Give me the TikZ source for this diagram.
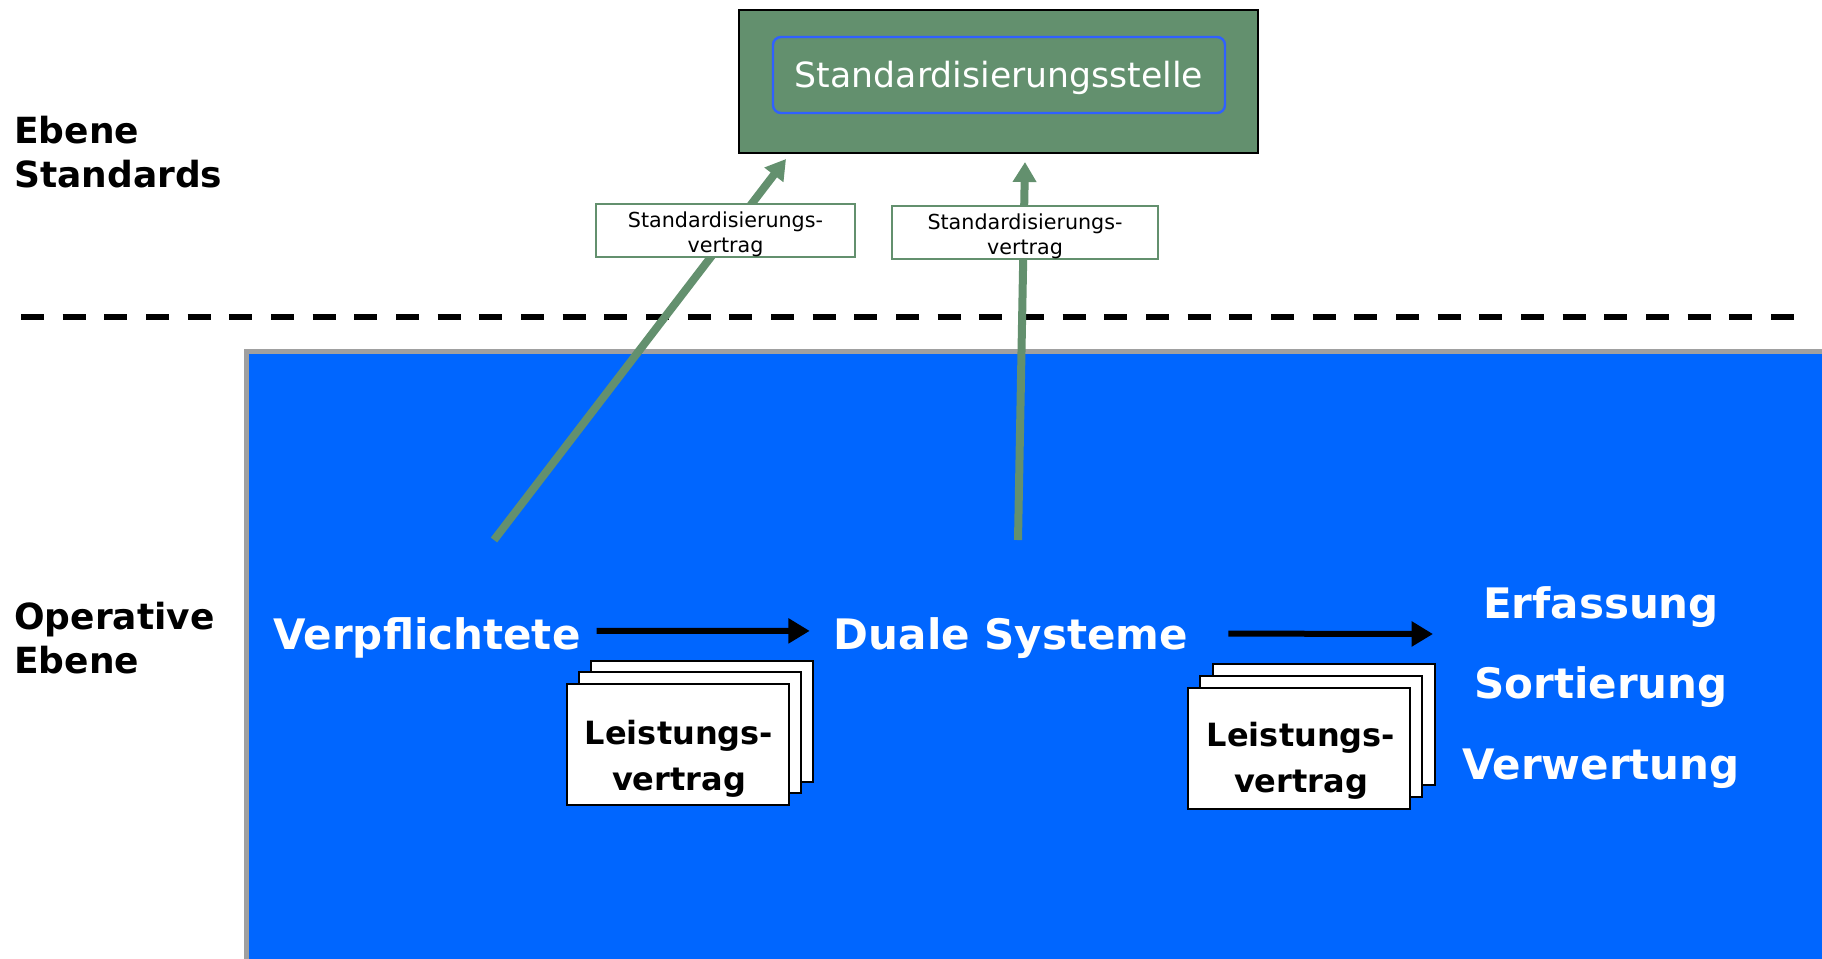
\documentclass[tikz,border=0pt]{standalone}
\usepackage{fontspec}
\setmainfont{DejaVu Sans}
\usetikzlibrary{arrows.meta}
\definecolor{sgreen}{RGB}{99,144,110}
\definecolor{opblue}{RGB}{0,102,255}
\definecolor{rblue}{RGB}{48,96,255}
\definecolor{bgray}{RGB}{160,160,160}
\begin{document}
\begin{tikzpicture}[x=0.75pt,y=-0.75pt,
  big/.style={font=\fontsize{31.5}{38}\selectfont\bfseries, text=white, inner sep=0pt, anchor=base},
  lvl/.style={font=\fontsize{27}{33}\selectfont\bfseries, text=black, inner sep=0pt, anchor=base west},
  doc/.style={draw=black, line width=1.5pt, fill=white, inner sep=0pt, minimum width=166.5pt, minimum height=90.75pt},
  doctext/.style={font=\fontsize{24}{34.5}\selectfont\bfseries, align=center, inner sep=0pt},
  lblbox/.style={draw=sgreen, line width=1.5pt, fill=white, inner sep=0pt, minimum height=40pt},
  lbltext/.style={font=\fontsize{15.5}{18.75}\selectfont, align=center, inner sep=0pt},
  garrow/.style={draw=sgreen, line width=6pt, -{Triangle[length=15pt,width=17pt]}},
  barrow/.style={draw=black, line width=4.5pt, -{Triangle[length=16pt,width=18pt]}},
]
\useasboundingbox (0,0) rectangle (1822,958);
\clip (0,0) rectangle (1822,958);
\fill[white] (0,0) rectangle (1822,958);

% operative area
\draw[bgray, line width=3.75pt, fill=opblue] (246.5,351.5) rectangle (1850,990);

% dashed separator
\draw[line width=4.5pt, dash pattern=on 17.25pt off 14pt] (21,317) -- (1795,317);

% level labels
\node[lvl] (l1a) at (14,143) {Ebene};
\node[lvl] (l1b) at (14,187) {Standards};
\node[lvl] (l2a) at (14,629) {Operative};
\node[lvl] (l2b) at (14,673) {Ebene};

% standardisation body
\node[fill=sgreen, draw=black, line width=1.5pt, minimum width=389pt, minimum height=107pt, inner sep=0pt] (std) at (998.5,81.5) {};
\node[draw=rblue, line width=1.8pt, rounded corners=6pt, minimum width=339pt, minimum height=57pt, inner sep=0pt] (stdin) at (999,75) {};
\node[text=white, font=\fontsize{26}{30}\selectfont, inner sep=0pt, anchor=base] (stdtext) at (999,87) {Standardisierungsstelle};

% operative texts
\node[big] (verp) at (427,649) {Verpflichtete};
\node[big] (duale) at (1011,649) {Duale Systeme};
\node[big] (erf) at (1601,618) {Erfassung};
\node[big] (sort) at (1601,698) {Sortierung};
\node[big] (verw) at (1601,779) {Verwertung};

% green arrows
\coordinate (g1s) at (494,540);
\coordinate (g1e) at (786,159);
\coordinate (g2s) at (1018,540);
\coordinate (g2e) at (1025,162);
\draw[garrow] (g1s) -- (g1e);
\draw[garrow] (g2s) -- (g2e);

\node[lblbox, minimum width=194pt] (lbl1) at (725.5,230.5) {};
\node[lbltext] (lt1) at (725.5,234) {Standardisierungs-\\vertrag};
\node[lblbox, minimum width=199.5pt] (lbl2) at (1025,232.5) {};
\node[lbltext] (lt2) at (1025,236) {Standardisierungs-\\vertrag};

% black arrows
\coordinate (proc) at (1433,634);
\draw[barrow] ([xshift=12pt,yshift=5pt]verp.east) -- ([xshift=-18pt,yshift=5pt]duale.west);
\draw[barrow] ([xshift=30pt,yshift=3pt]duale.east) -- (proc);

% contract stacks left
\node[doc] (d1c) at (702,721.5) {};
\node[doc] (d1b) at (690,732.5) {};
\node[doc] (d1a) at (678,744.5) {};
\node[doctext] (t1) at (679,759) {Leistungs-\\vertrag};

% contract stacks right
\node[doc] (d2c) at (1324,724.5) {};
\node[doc] (d2b) at (1311,736) {};
\node[doc] (d2a) at (1299,748) {};
\node[doctext] (t2) at (1301,761) {Leistungs-\\vertrag};
\end{tikzpicture}
\end{document}
